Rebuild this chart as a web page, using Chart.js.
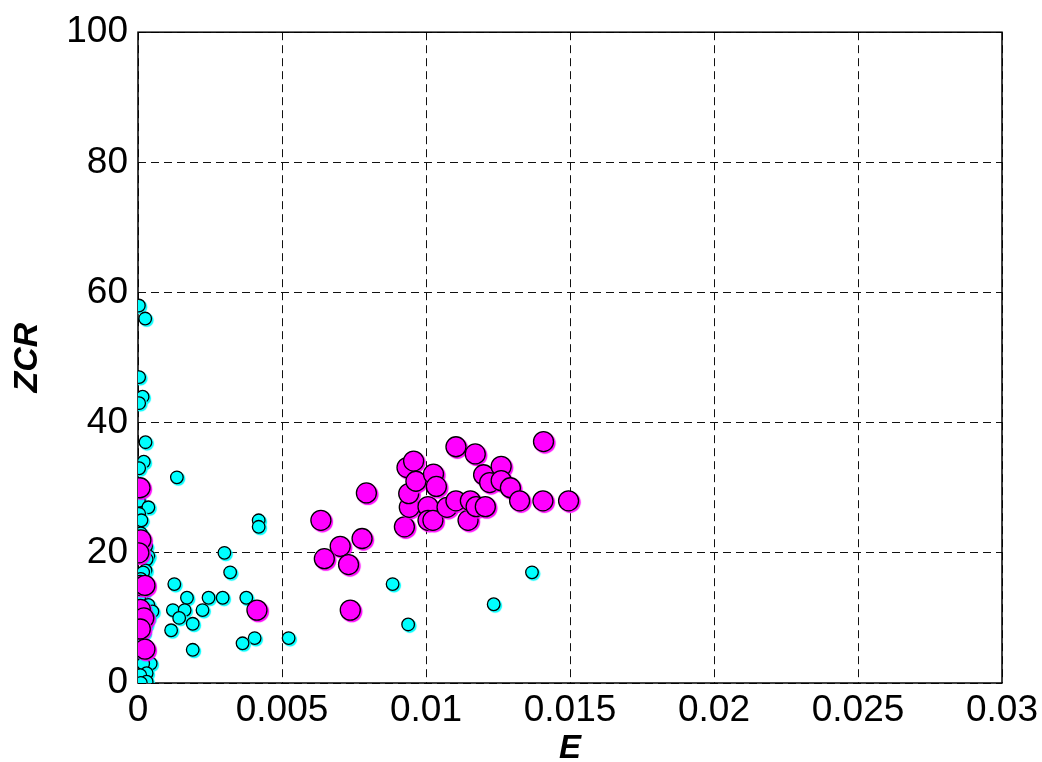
<!DOCTYPE html>
<html>
<head>
<meta charset="utf-8">
<script src="https://cdn.jsdelivr.net/npm/chart.js@4"></script>
<style>
  html, body { margin: 0; padding: 0; background: #fff; }
  #wrap { width: 1042px; height: 762px; }
</style>
</head>
<body>
<div id="wrap"><canvas id="c" width="1042" height="762"></canvas></div>
<script>
// Axis ticks
const xTickValues = [0, 0.005, 0.01, 0.015, 0.02, 0.025, 0.03];
const xTickLabels = ['0', '0.005', '0.01', '0.015', '0.02', '0.025', '0.03'];
const yTickValues = [0, 20, 40, 60, 80, 100];
const yTickLabels = ['0', '20', '40', '60', '80', '100'];

// Class A (small cyan markers): energy E and zero-crossing rate ZCR
const classA_E = [
  0.00003, 0.00025, 0.00004, 0.00016, 0.00004, 0.00026, 0.00020, 0.00004,
  0.00003, 0.00003, 0.00036, 0.00004, 0.00012, 0.00010, 0.00028, 0.00036,
  0.00030, 0.00026, 0.00018, 0.00010, 0.00020, 0.00004, 0.00036, 0.00050,
  0.00036, 0.00028, 0.00020, 0.00008, 0.00030, 0.00014, 0.00044, 0.00018,
  0.00030, 0.00008, 0.00030, 0.00010,
  0.00135, 0.00419, 0.00419, 0.00300, 0.00320, 0.00126, 0.00170, 0.00245,
  0.00294, 0.00376, 0.00121, 0.00162, 0.00224, 0.00143, 0.00190, 0.00115,
  0.00405, 0.00363, 0.00523, 0.00190,
  0.00884, 0.00938, 0.01235, 0.01368
];
const classA_ZCR = [
  58, 56, 47, 44, 43, 37, 34, 33,
  30, 28, 27, 26, 25, 23, 21, 19.5,
  19, 17.3, 17, 16, 14, 13, 12, 11,
  10, 9, 7.7, 6, 5, 4, 3, 3,
  1.5, 1.2, 0.2, 0,
  31.6, 25, 24, 20, 17, 15.2, 13.1, 13.1,
  13.1, 13.1, 11.2, 11.2, 11.2, 10, 9.1, 8.1,
  6.9, 6.1, 6.9, 5.1,
  15.2, 9, 12.1, 17
];

// Class B (large magenta markers)
const classB_E = [
  0.00007, 0.00010, 0.00003, 0.00008, 0.00024, 0.00008, 0.00020, 0.00008, 0.00024,
  0.00413, 0.00635, 0.00793, 0.00778, 0.00702, 0.00647, 0.00731, 0.00737,
  0.00925, 0.00942, 0.00940, 0.00934, 0.00957, 0.00965, 0.01007, 0.01007,
  0.01024, 0.01026, 0.01036, 0.01073, 0.01104, 0.01104, 0.01146, 0.01154,
  0.01171, 0.01174, 0.01206, 0.01200, 0.01221, 0.01261, 0.01261, 0.01293,
  0.01325, 0.01408, 0.01406, 0.01495
];
const classB_ZCR = [
  30, 22, 20, 15, 15, 11.3, 10, 8.3, 5.2,
  11.2, 25, 29.2, 22.2, 21, 19.1, 18.2, 11.2,
  24, 27, 29.1, 33.1, 34.1, 31, 27.1, 25,
  25, 32.1, 30.2, 27, 36.3, 28, 25, 28,
  35.2, 27.1, 27.1, 32, 30.8, 33.3, 31.1, 30,
  28, 37.1, 28, 28
];

const toPoints = (xs, ys) => xs.map((x, i) => ({ x: x, y: ys[i] }));

const FONT = '"Liberation Sans", Arial, sans-serif';

// Coloured drop shadow under each marker
const markerShadow = {
  id: 'markerShadow',
  beforeDatasetDraw(chart, args) {
    const ctx = chart.ctx;
    ctx.save();
    ctx.shadowColor = args.meta._dataset.backgroundColor;
    ctx.shadowOffsetX = 1.5;
    ctx.shadowOffsetY = 1.5;
    ctx.shadowBlur = 1;
  },
  afterDatasetDraw(chart) {
    chart.ctx.restore();
  }
};

// Solid frame round the plotting area
const frameBox = {
  id: 'frameBox',
  beforeDatasetsDraw(chart) {
    const a = chart.chartArea;
    const ctx = chart.ctx;
    ctx.save();
    ctx.strokeStyle = '#000';
    ctx.lineWidth = 1.5;
    ctx.setLineDash([]);
    ctx.strokeRect(a.left, a.top, a.right - a.left, a.bottom - a.top);
    ctx.restore();
  }
};

new Chart(document.getElementById('c'), {
  type: 'scatter',
  data: {
    datasets: [
      {
        label: 'B',
        data: toPoints(classB_E, classB_ZCR),
        backgroundColor: '#ff00ff',
        borderColor: '#000',
        borderWidth: 1.3,
        pointRadius: 10,
        pointHoverRadius: 10,
        order: 0
      },
      {
        label: 'A',
        data: toPoints(classA_E, classA_ZCR),
        backgroundColor: '#00ffff',
        borderColor: '#000',
        borderWidth: 1.3,
        pointRadius: 6.3,
        pointHoverRadius: 6.3,
        order: 1
      }
    ]
  },
  options: {
    responsive: false,
    animation: false,
    events: [],
    layout: { padding: { left: 0, top: 29, right: 40, bottom: 0 } },
    plugins: {
      legend: { display: false },
      tooltip: { enabled: false }
    },
    scales: {
      x: {
        type: 'linear',
        min: 0,
        max: 0.03,
        afterBuildTicks(scale) { scale.ticks = xTickValues.map(v => ({ value: v })); },
        afterFit(scale) {
          scale.height = 79;
          scale.paddingLeft = 0;
          scale.paddingRight = 0;
        },
        ticks: {
          color: '#000',
          font: { family: FONT, size: 37 },
          padding: 6,
          maxRotation: 0,
          autoSkip: false,
          callback: (v, i) => xTickLabels[i]
        },
        grid: { color: '#111', lineWidth: 1, drawTicks: false },
        border: { display: false, dash: [8, 5] },
        title: {
          display: true,
          text: 'E',
          color: '#000',
          font: { family: FONT, size: 33, weight: 'bold', style: 'italic', lineHeight: '26px' },
          padding: 0
        }
      },
      y: {
        type: 'linear',
        min: 0,
        max: 100,
        afterBuildTicks(scale) { scale.ticks = yTickValues.map(v => ({ value: v })); },
        afterFit(scale) { scale.width = 138; },
        ticks: {
          color: '#000',
          font: { family: FONT, size: 37 },
          padding: 10,
          autoSkip: false,
          callback: (v, i) => yTickLabels[i]
        },
        grid: { color: '#111', lineWidth: 1, drawTicks: false },
        border: { display: false, dash: [8, 5] },
        title: {
          display: true,
          text: 'ZCR',
          color: '#000',
          font: { family: FONT, size: 34, weight: 'bold', style: 'italic', lineHeight: '56px' },
          padding: 0
        }
      }
    }
  },
  plugins: [markerShadow, frameBox]
});
</script>
</body>
</html>
